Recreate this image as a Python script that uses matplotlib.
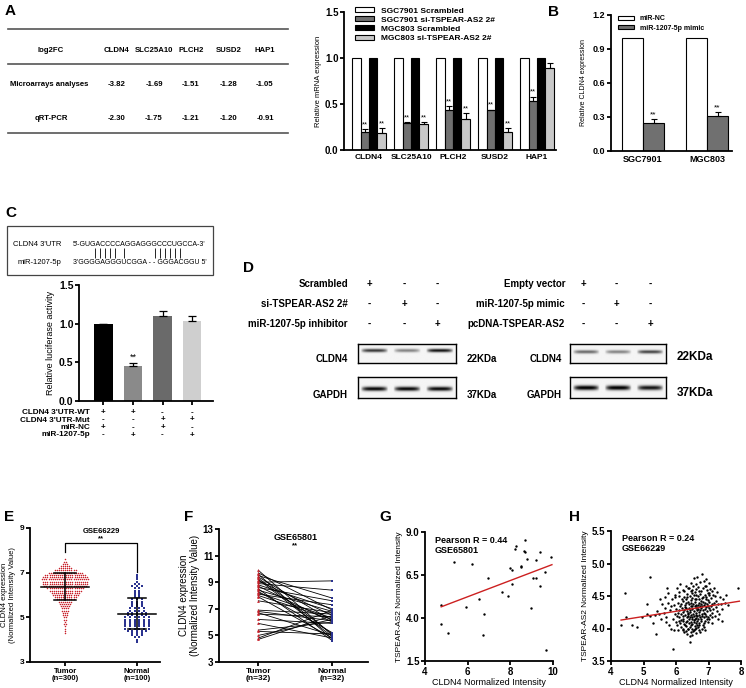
import numpy as np
import matplotlib
matplotlib.use('Agg')
import matplotlib.pyplot as plt
from matplotlib.transforms import blended_transform_factory

plt.rcParams['font.family'] = ['Liberation Sans', 'DejaVu Sans']
plt.rcParams['font.weight'] = 'bold'
plt.rcParams['axes.linewidth'] = 1.3

# ---- panel A table
table_genes = ['CLDN4', 'SLC25A10', 'PLCH2', 'SUSD2', 'HAP1']
micro_fc = ['-3.82', '-1.69', '-1.51', '-1.28', '-1.05']
qpcr_fc = ['-2.30', '-1.75', '-1.21', '-1.20', '-0.91']

# ---- panel A bars
a_series = ['SGC7901 Scrambled', 'SGC7901 si-TSPEAR-AS2 2#',
            'MGC803 Scrambled', 'MGC803 si-TSPEAR-AS2 2#']
a_sgc_scr = [1.0, 1.0, 1.0, 1.0, 1.0]
a_sgc_si = [0.20, 0.29, 0.43, 0.43, 0.53]
a_sgc_si_err = [0.03, 0.01, 0.05, 0.01, 0.05]
a_mgc_scr = [1.0, 1.0, 1.0, 1.0, 1.0]
a_mgc_si = [0.19, 0.28, 0.34, 0.20, 0.89]
a_mgc_si_err = [0.05, 0.02, 0.06, 0.04, 0.06]
a_mgc_sig = [True, True, True, True, False]

# ---- panel B
b_cells = ['SGC7901', 'MGC803']
b_series = ['miR-NC', 'miR-1207-5p mimic']
b_nc = [1.0, 1.0]
b_mimic = [0.25, 0.31]
b_mimic_err = [0.03, 0.03]

# ---- panel C
c_values = [1.0, 0.45, 1.10, 1.04]
c_err = [0.0, 0.04, 0.07, 0.06]
c_sig = ['', '**', '', '']
c_row_labels = ["CLDN4 3'UTR-WT", "CLDN4 3'UTR-Mut", 'miR-NC', 'miR-1207-5p']
c_row_signs = [['+', '+', '-', '-'], ['-', '-', '+', '+'],
               ['+', '-', '+', '-'], ['-', '+', '-', '+']]

# ---- panel D
d_left_rows = ['Scrambled', 'si-TSPEAR-AS2 2#', 'miR-1207-5p inhibitor']
d_left_signs = [['+', '-', '-'], ['-', '+', '-'], ['-', '-', '+']]
d_right_rows = ['Empty vector', 'miR-1207-5p mimic', 'pcDNA-TSPEAR-AS2']
d_right_signs = [['+', '-', '-'], ['-', '+', '-'], ['-', '-', '+']]
d_left_cldn4 = [0.75, 0.45, 0.9]
d_left_gapdh = [0.95, 0.95, 0.95]
d_right_cldn4 = [0.55, 0.45, 0.7]
d_right_gapdh = [1.0, 1.0, 0.9]

# ---- panel E (value levels and point counts per level)
e_tumor_levels = [4.3, 4.4, 4.5, 4.6, 4.7, 4.8, 4.9, 5.0, 5.1, 5.2, 5.3, 5.4, 5.5,
                  5.6, 5.7, 5.8, 5.9, 6.0, 6.1, 6.2, 6.3, 6.4, 6.5, 6.6, 6.7, 6.8,
                  6.9, 7.0, 7.1, 7.2, 7.3, 7.4, 7.5, 7.6]
e_tumor_counts = [1, 1, 1, 1, 2, 1, 2, 2, 3, 3, 4, 4, 5,
                  6, 7, 9, 11, 13, 14, 16, 18, 21, 22, 22, 23, 22,
                  20, 17, 11, 7, 5, 3, 2, 1]
e_normal_levels = [3.9, 4.0, 4.1, 4.2, 4.3, 4.4, 4.5, 4.6, 4.7, 4.8, 4.9, 5.0, 5.1,
                   5.2, 5.3, 5.4, 5.5, 5.6, 5.7, 5.8, 5.9, 6.0, 6.1, 6.2, 6.3, 6.4,
                   6.5, 6.6, 6.7, 6.8, 6.9]
e_normal_counts = [1, 1, 2, 3, 3, 5, 6, 6, 6, 6, 6, 6, 5,
                   5, 4, 4, 3, 3, 3, 3, 2, 2, 2, 2, 2, 3,
                   2, 1, 1, 1, 1]

# ---- panel F (paired)
f_tumor = [9.9, 9.7, 9.6, 9.5, 9.4, 9.3, 9.2, 9.1, 9.0, 8.9, 8.8, 8.7, 8.6, 8.5, 8.4, 8.3,
           8.2, 8.1, 8.0, 7.9, 7.6, 6.9, 6.8, 6.7, 6.6, 6.2, 5.9, 5.4, 5.3, 5.0, 4.8, 4.7]
f_normal = [5.0, 6.9, 4.7, 7.8, 6.1, 5.1, 4.9, 6.5, 9.1, 8.4, 7.0, 6.0, 7.6, 4.6, 6.8, 5.2,
            6.3, 7.3, 6.2, 4.8, 6.7, 6.6, 6.1, 5.0, 6.4, 5.9, 4.8, 6.0, 5.1, 6.2, 6.9, 6.5]

# ---- panel G
g_x = [4.76, 4.73, 5.10, 5.37, 5.92, 6.20, 6.53, 6.75, 6.72, 6.93, 7.60, 7.91, 7.97, 8.09,
       8.06, 8.21, 8.27, 8.49, 8.52, 8.67, 8.64, 8.67, 8.79, 8.98, 9.07, 9.22, 9.19, 9.40,
       9.37, 9.62, 9.68, 9.92]
g_y = [4.74, 3.63, 3.15, 7.28, 4.66, 7.12, 5.09, 4.21, 3.00, 6.31, 5.53, 5.28, 6.89, 6.77,
       6.00, 8.01, 8.17, 7.04, 6.95, 8.53, 7.90, 7.82, 7.43, 4.60, 6.34, 6.34, 7.37, 7.82,
       5.88, 6.66, 2.14, 7.53]
g_fit_x = [4.76, 9.95]
g_fit_y = [4.65, 7.10]

# ---- panel H
h_x = [4.30, 4.43, 4.46, 4.64, 4.79, 4.94, 5.10, 5.20, 5.10, 5.21, 5.30, 5.35, 5.38, 5.44,
       5.42, 5.48, 5.51, 5.55, 5.58, 5.62, 5.65, 5.68, 5.70, 5.74, 5.76, 5.78, 5.82, 5.85,
       5.88, 5.90, 5.92, 5.95, 5.97, 5.93,
       6.80, 6.65, 6.92, 6.55,
       6.30, 6.12, 6.75, 7.00, 6.60, 6.45, 6.85,
       6.02, 6.20, 6.38, 6.50, 6.62, 6.70, 6.82, 6.95, 7.05, 7.12, 7.90, 6.48, 6.58,
       5.98, 6.10, 6.25, 6.35, 6.42, 6.55, 6.60, 6.68, 6.73, 6.80, 6.88, 6.93, 7.00, 7.08,
       7.20, 7.35, 7.45, 6.30, 6.47, 6.78, 6.98,
       6.05, 6.15, 6.22, 6.28, 6.36, 6.40, 6.45, 6.52, 6.58, 6.63, 6.70, 6.76, 6.82, 6.87,
       6.90, 6.96, 7.03, 7.10, 7.18, 7.28, 7.50, 7.60, 6.50, 6.66, 6.74, 6.92,
       6.00, 6.08, 6.18, 6.25, 6.30, 6.35, 6.40, 6.44, 6.50, 6.55, 6.60, 6.64, 6.69, 6.72,
       6.78, 6.83, 6.88, 6.94, 7.00, 7.06, 7.15, 7.25, 7.40, 6.20, 6.38, 6.52, 6.62, 6.80,
       6.02, 6.10, 6.15, 6.22, 6.28, 6.33, 6.37, 6.42, 6.47, 6.50, 6.56, 6.60, 6.65, 6.70,
       6.75, 6.80, 6.85, 6.92, 6.98, 7.05, 7.12, 7.20, 7.30, 6.40, 6.55, 6.68,
       6.00, 6.08, 6.12, 6.20, 6.25, 6.30, 6.35, 6.40, 6.45, 6.50, 6.55, 6.60, 6.65, 6.72,
       6.78, 6.85, 6.90, 6.98, 7.10, 6.30, 6.42, 6.58, 6.70, 6.15,
       6.05, 6.20, 6.30, 6.38, 6.45, 6.50, 6.55, 6.62, 6.70, 6.80, 6.90, 6.35, 6.48, 6.42,
       6.25,
       6.26, 6.41, 6.53, 6.67, 6.77, 6.91, 7.02, 6.34, 6.49, 6.63, 6.71, 6.84, 6.97, 7.13,
       7.24, 6.18, 6.32, 6.46, 6.57, 6.69, 6.79, 6.93, 7.07, 7.22, 6.12, 6.27, 6.43, 6.59,
       6.73, 6.86, 6.99, 7.11, 6.06, 6.23, 6.36, 6.49, 6.63, 6.77, 6.89, 7.02, 6.16, 6.29,
       6.46, 6.57, 6.68, 6.83, 6.95, 6.37, 6.52, 6.61, 6.74, 6.86, 6.22, 6.44, 6.58, 6.66,
       6.47, 6.88, 7.27, 7.38, 7.33, 7.42, 7.55, 7.18, 6.08, 5.96, 6.04, 5.84, 5.72, 5.66]
h_y = [4.05, 4.54, 4.18, 4.05, 4.03, 4.17, 4.37, 4.80, 4.22, 4.20, 4.08, 4.21, 3.91, 5.22,
       4.27, 4.22, 4.46, 4.15, 4.38, 4.24, 4.32, 4.18, 4.10, 4.40, 4.55, 4.05, 4.28, 4.00,
       4.45, 4.14, 3.68, 4.36, 4.22, 3.97,
       4.84, 4.80, 4.76, 4.78,
       4.66, 4.68, 4.72, 4.70, 4.68, 4.70, 4.73,
       4.62, 4.60, 4.63, 4.60, 4.61, 4.58, 4.62, 4.60, 4.61, 4.57, 4.62, 4.55, 4.56,
       4.52, 4.50, 4.48, 4.53, 4.50, 4.52, 4.46, 4.50, 4.53, 4.47, 4.52, 4.49, 4.51, 4.47,
       4.50, 4.48, 4.45, 4.45, 4.44, 4.43, 4.44,
       4.40, 4.38, 4.42, 4.36, 4.41, 4.37, 4.40, 4.38, 4.41, 4.36, 4.40, 4.38, 4.41, 4.36,
       4.40, 4.38, 4.41, 4.37, 4.40, 4.38, 4.40, 4.36, 4.34, 4.33, 4.34, 4.33,
       4.30, 4.28, 4.32, 4.28, 4.31, 4.27, 4.32, 4.28, 4.30, 4.27, 4.31, 4.28, 4.30, 4.26,
       4.31, 4.28, 4.30, 4.27, 4.31, 4.28, 4.30, 4.27, 4.30, 4.25, 4.24, 4.23, 4.24, 4.23,
       4.20, 4.18, 4.22, 4.19, 4.21, 4.17, 4.20, 4.18, 4.21, 4.17, 4.20, 4.16, 4.19, 4.21,
       4.17, 4.20, 4.18, 4.20, 4.17, 4.21, 4.18, 4.20, 4.15, 4.14, 4.13, 4.14,
       4.10, 4.12, 4.08, 4.11, 4.07, 4.10, 4.12, 4.08, 4.10, 4.07, 4.10, 4.08, 4.11, 4.09,
       4.12, 4.08, 4.11, 4.10, 4.09, 4.04, 4.03, 4.04, 4.05, 4.02,
       3.98, 4.00, 3.96, 3.99, 3.95, 4.00, 3.97, 3.93, 3.98, 4.00, 3.97, 3.92, 3.90, 3.80,
       3.94,
       4.57, 4.62, 4.66, 4.64, 4.57, 4.66, 4.55, 4.49, 4.47, 4.52, 4.45, 4.49, 4.55, 4.52,
       4.43, 4.46, 4.39, 4.35, 4.46, 4.36, 4.35, 4.46, 4.34, 4.33, 4.34, 4.33, 4.26, 4.34,
       4.29, 4.24, 4.35, 4.24, 4.24, 4.15, 4.23, 4.14, 4.21, 4.14, 4.23, 4.14, 4.13, 4.06,
       4.05, 4.15, 4.02, 4.05, 4.14, 4.00, 3.96, 4.01, 3.94, 4.02, 3.97, 3.88, 3.99, 4.06,
       4.58, 4.65, 4.56, 4.38, 4.22, 4.12, 4.51, 4.62, 4.56, 4.49, 4.05, 4.35, 4.62, 4.48]
h_fit_x = [4.31, 7.95]
h_fit_y = [4.13, 4.42]

W, H = 746, 688
fig = plt.figure(figsize=(W / 100, H / 100), dpi=100)


def px_axes(x0, y0, x1, y1):
    return fig.add_axes([x0 / W, 1 - y1 / H, (x1 - x0) / W, (y1 - y0) / H])


def prism(ax, size=7):
    for s in ['top', 'right']:
        ax.spines[s].set_visible(False)
    ax.tick_params(direction='out', width=1.3, length=3, labelsize=size, pad=1)
    ax.patch.set_alpha(0)


fmt1 = matplotlib.ticker.FormatStrFormatter('%.1f')

over = px_axes(0, 0, W, H)
over.set_xlim(0, W)
over.set_ylim(H, 0)
over.axis('off')

for lab, x, y in [('A', 5, 11), ('B', 548, 12), ('C', 5, 213), ('D', 243, 268),
                  ('E', 4, 517), ('F', 184, 517), ('G', 379, 517), ('H', 569, 517)]:
    over.text(x, y, lab, fontsize=11, fontweight='bold', ha='left', va='center')

# ---------- A table
for y in [29, 64, 133]:
    over.plot([8, 288], [y, y], color='#555555', lw=1.2)
col_x = [117, 154, 191, 229, 265]
tkw = dict(fontsize=5.6, ha='center', va='center')
over.text(51, 50, 'log2FC', **tkw)
over.text(49, 84, 'Microarrays analyses', **tkw)
over.text(51, 118, 'qRT-PCR', **tkw)
for i, g in enumerate(table_genes):
    over.text(col_x[i], 50, g, **tkw)
    over.text(col_x[i], 84, micro_fc[i], **tkw)
    over.text(col_x[i], 118, qpcr_fc[i], **tkw)

# ---------- A bars
axA = px_axes(344, 12, 556, 150)
prism(axA)
xg = np.arange(len(table_genes))
w = 0.2
bar_kw = dict(width=w, edgecolor='black', linewidth=0.8)
axA.bar(xg - 1.5 * w, a_sgc_scr, color='white', label=a_series[0], **bar_kw)
axA.bar(xg - 0.5 * w, a_sgc_si, color='#707070', label=a_series[1], **bar_kw)
axA.bar(xg + 0.5 * w, a_mgc_scr, color='black', label=a_series[2], **bar_kw)
axA.bar(xg + 1.5 * w, a_mgc_si, color='#c8c8c8', label=a_series[3], **bar_kw)
axA.errorbar(xg - 0.5 * w, a_sgc_si, yerr=[np.zeros(5), a_sgc_si_err], fmt='none',
             ecolor='black', elinewidth=0.8, capsize=2, capthick=0.8)
axA.errorbar(xg + 1.5 * w, a_mgc_si, yerr=[np.zeros(5), a_mgc_si_err], fmt='none',
             ecolor='black', elinewidth=0.8, capsize=2, capthick=0.8)
for i in range(5):
    axA.text(xg[i] - 0.5 * w, a_sgc_si[i] + a_sgc_si_err[i] + 0.01, '**', fontsize=5.5,
             ha='center', va='bottom', fontweight='normal')
    if a_mgc_sig[i]:
        axA.text(xg[i] + 1.5 * w, a_mgc_si[i] + a_mgc_si_err[i] + 0.01, '**', fontsize=5.5,
                 ha='center', va='bottom', fontweight='normal')
axA.set_xlim(-0.595, 4.45)
axA.set_ylim(0, 1.5)
axA.set_yticks([0, 0.5, 1.0, 1.5])
axA.yaxis.set_major_formatter(fmt1)
axA.set_xticks(xg)
axA.set_xticklabels(table_genes, fontsize=6)
axA.tick_params(axis='x', length=0, pad=3)
axA.set_ylabel('Relative mRNA expression', fontsize=5.5, fontweight='normal', labelpad=2)
axA.legend(loc='upper left', bbox_to_anchor=(351 / W, 1 - 3 / H), bbox_transform=fig.transFigure,
           frameon=False, fontsize=6, handlelength=2.3, handleheight=0.55,
           labelspacing=0.2, borderpad=0, handletextpad=0.8)

# ---------- B bars
axB = px_axes(611, 15, 732, 151)
prism(axB, 6.5)
xb = np.arange(len(b_cells))
wb = 0.33
axB.bar(xb - wb / 2, b_nc, width=wb, color='white', edgecolor='black', lw=0.8, label=b_series[0])
axB.bar(xb + wb / 2, b_mimic, width=wb, color='#707070', edgecolor='black', lw=0.8, label=b_series[1])
axB.errorbar(xb + wb / 2, b_mimic, yerr=[np.zeros(2), b_mimic_err], fmt='none', ecolor='black',
             elinewidth=0.8, capsize=2.5, capthick=0.8)
for i in range(2):
    axB.text(xb[i] + wb / 2, b_mimic[i] + b_mimic_err[i] + 0.01, '**', fontsize=6,
             ha='center', va='bottom', fontweight='normal')
axB.set_xlim(-0.5, 1.39)
axB.set_ylim(0, 1.2)
axB.set_yticks([0, 0.3, 0.6, 0.9, 1.2])
axB.yaxis.set_major_formatter(fmt1)
axB.set_xticks(xb)
axB.set_xticklabels(b_cells, fontsize=6.5)
axB.tick_params(axis='x', length=0, pad=3)
axB.set_ylabel('Relative CLDN4 expression', fontsize=5, labelpad=4)
axB.legend(loc='upper left', bbox_to_anchor=(615 / W, 1 - 12 / H), bbox_transform=fig.transFigure,
           frameon=False, fontsize=5, handlelength=2.3, handleheight=0.55,
           labelspacing=0.3, borderpad=0, handletextpad=0.8)

# ---------- C sequence box
over.add_patch(plt.Rectangle((7, 226), 206, 49, fill=False, edgecolor='#444444', lw=0.9))
skw = dict(fontsize=5.5, fontweight='normal', va='center')
qkw = dict(fontsize=5.0, fontweight='normal', va='center')
over.text(13, 244, "CLDN4 3'UTR", **skw)
over.text(73, 244, "5'-GUGACCCCAGGAGGGCCCUGCCA-3'", **qkw)
over.text(18, 263, 'miR-1207-5p', **skw)
over.text(73, 263, "3'GGGGAGGGUCGGA - - GGGACGGU 5'", **qkw)
pair_x = [95, 100, 105, 110, 115, 124, 155, 160, 165, 170, 175, 180]
over.vlines(pair_x, 248, 258, color='black', lw=0.6)

# ---------- C bars
axC = px_axes(79, 285, 213, 401)
prism(axC, 7.5)
xc = np.arange(len(c_values))
axC.bar(xc, c_values, width=0.64, color=['black', '#8a8a8a', '#6a6a6a', '#cfcfcf'],
        edgecolor='none')
axC.errorbar(xc, c_values, yerr=[np.zeros(4), c_err], fmt='none', ecolor='black',
             elinewidth=0.9, capsize=3, capthick=0.9)
for i in range(4):
    if c_sig[i]:
        axC.text(xc[i], c_values[i] + c_err[i] + 0.02, c_sig[i], fontsize=6.5, ha='center',
                 va='bottom', fontweight='normal')
axC.set_xlim(-0.83, 3.71)
axC.set_ylim(0, 1.5)
axC.set_yticks([0, 0.5, 1.0, 1.5])
axC.yaxis.set_major_formatter(fmt1)
axC.set_xticks(xc)
axC.set_xticklabels([])
axC.set_ylabel('Relative luciferase activity', fontsize=6.5, fontweight='normal', labelpad=3)
trC = blended_transform_factory(axC.transData, over.transData)
row_y = [412.5, 420, 427.5, 435]
for r, lab in enumerate(c_row_labels):
    over.text(90, row_y[r], lab, fontsize=5.9, ha='right', va='center')
    for i, s in enumerate(c_row_signs[r]):
        over.text(xc[i], row_y[r], s, fontsize=5.9, ha='center', va='center', transform=trC)

# ---------- D
d_rows_y = [284, 304, 324]
left_sign_x = [369, 404, 437]
right_sign_x = [583, 616, 650]
for r in range(3):
    over.text(348, d_rows_y[r], d_left_rows[r], fontsize=7, ha='right', va='center')
    over.text(565, d_rows_y[r], d_right_rows[r], fontsize=7, ha='right', va='center')
    for i in range(3):
        over.text(left_sign_x[i], d_rows_y[r], d_left_signs[r][i], fontsize=7, ha='center', va='center')
        over.text(right_sign_x[i], d_rows_y[r], d_right_signs[r][i], fontsize=7, ha='center', va='center')


def blot(x0, y0, x1, y1, levels, yc, sy):
    ax = px_axes(x0, y0, x1, y1)
    rows, cols = 40, 300
    yy, xx = np.mgrid[0:rows, 0:cols]
    img = np.full((rows, cols), 0.04)
    for k, lev in enumerate(levels):
        xc_ = cols * (2 * k + 1) / 6
        hprof = np.clip(1 - (np.abs(xx - xc_) / 42.0) ** 4, 0, 1)
        img += lev * hprof * np.exp(-((yy - yc * rows) / (sy * rows)) ** 2)
    ax.imshow(np.clip(img, 0, 1), cmap='gray_r', vmin=0, vmax=1, aspect='auto',
              interpolation='bilinear')
    ax.set_xticks([])
    ax.set_yticks([])
    for s in ax.spines.values():
        s.set_linewidth(1.0)
    return ax


blot(358, 344, 456, 363, d_left_cldn4, 0.33, 0.09)
blot(358, 377, 456, 398, d_left_gapdh, 0.55, 0.1)
blot(570, 344, 666, 363, d_right_cldn4, 0.4, 0.09)
blot(570, 377, 666, 398, d_right_gapdh, 0.5, 0.11)
over.text(348, 359, 'CLDN4', fontsize=7, ha='right', va='center')
over.text(348, 395, 'GAPDH', fontsize=7, ha='right', va='center')
over.text(467, 359, '22KDa', fontsize=7, ha='left', va='center')
over.text(467, 395, '37KDa', fontsize=7, ha='left', va='center')
over.text(562, 359, 'CLDN4', fontsize=7, ha='right', va='center')
over.text(562, 395, 'GAPDH', fontsize=7, ha='right', va='center')
over.text(677, 357, '22KDa', fontsize=8.5, ha='left', va='center')
over.text(677, 393, '37KDa', fontsize=8.5, ha='left', va='center')


# ---------- E
def swarm(levels, counts, center, step):
    xs, ys = [], []
    for v, n in zip(levels, counts):
        off = (np.arange(n) - (n - 1) / 2) * step
        xs.extend(center + off)
        ys.extend([v] * n)
    return np.array(xs), np.array(ys)


axE = px_axes(30, 528, 160, 662)
prism(axE, 6)
tx, ty = swarm(e_tumor_levels, e_tumor_counts, 0, 0.029)
nx, ny = swarm(e_normal_levels, e_normal_counts, 1, 0.065)
axE.scatter(tx, ty, s=1.2, marker='o', color='#c8202a', linewidths=0)
axE.scatter(nx, ny, s=1.8, marker='s', color='#2b3390', linewidths=0)
for cx, vals, mw, cw in [(0, ty, 0.33, 0.15), (1, ny, 0.27, 0.13)]:
    m, sd = vals.mean(), vals.std()
    axE.plot([cx - mw, cx + mw], [m, m], color='black', lw=1.1)
    axE.plot([cx - cw, cx + cw], [m + sd, m + sd], color='black', lw=1.1)
    axE.plot([cx - cw, cx + cw], [m - sd, m - sd], color='black', lw=1.1)
    axE.plot([cx, cx], [m - sd, m + sd], color='black', lw=1.1)
axE.plot([0, 0, 1, 1], [7.93, 8.33, 8.33, 7.03], color='black', lw=0.9)
axE.text(0.5, 8.85, 'GSE66229', fontsize=5.5, ha='center', va='center')
axE.text(0.5, 8.5, '**', fontsize=5.5, ha='center', va='center')
axE.set_xlim(-0.49, 1.32)
axE.set_ylim(3, 9)
axE.set_yticks([3, 5, 7, 9])
axE.set_xticks([0, 1])
axE.set_xticklabels(['Tumor\n(n=300)', 'Normal\n(n=100)'], fontsize=5.5, linespacing=1.0)
axE.set_ylabel('CLDN4 expression\n(Normalized Intensity Value)', fontsize=5.5, labelpad=3,
               linespacing=1.1)

# ---------- F
axF = px_axes(219, 529, 368, 662)
prism(axF, 7)
for a, b in zip(f_tumor, f_normal):
    axF.plot([0, 1], [a, b], color='black', lw=0.6)
axF.scatter(np.zeros(len(f_tumor)), f_tumor, s=4, marker='^', color='#c8202a', zorder=3, linewidths=0)
axF.scatter(np.ones(len(f_normal)), f_normal, s=4, marker='s', color='#2b3390', zorder=3, linewidths=0)
axF.text(0.5, 12.35, 'GSE65801', fontsize=6.5, ha='center', va='center')
axF.text(0.5, 11.75, '**', fontsize=5.5, ha='center', va='center')
axF.set_xlim(-0.53, 1.48)
axF.set_ylim(3, 13)
axF.set_yticks([3, 5, 7, 9, 11, 13])
axF.set_xticks([0, 1])
axF.set_xticklabels(['Tumor\n(n=32)', 'Normal\n(n=32)'], fontsize=6, linespacing=1.0)
axF.set_ylabel('CLDN4 expression\n(Normalized Intensity Value)', fontsize=7, labelpad=2,
               linespacing=1.1)

# ---------- G
axG = px_axes(425, 532, 553, 661)
prism(axG, 7)
axG.scatter(g_x, g_y, s=3, color='black', linewidths=0)
axG.plot(g_fit_x, g_fit_y, color='#cc2020', lw=1.0)
axG.text(4.45, 8.75, 'Pearson R = 0.44\nGSE65801', fontsize=6.5, ha='left', va='top', linespacing=1.15)
axG.set_xlim(4, 10)
axG.set_ylim(1.5, 9.0)
axG.set_xticks([4, 6, 8, 10])
axG.set_yticks([1.5, 4.0, 6.5, 9.0])
axG.yaxis.set_major_formatter(fmt1)
axG.set_xlabel('CLDN4 Normalized Intensity', fontsize=6.5, labelpad=1)
axG.set_ylabel('TSPEAR-AS2 Normalized Intensity', fontsize=6, labelpad=2)

# ---------- H
axH = px_axes(611, 531, 741, 661)
prism(axH, 7)
axH.scatter(h_x, h_y, s=3, color='black', linewidths=0)
axH.plot(h_fit_x, h_fit_y, color='#cc2020', lw=1.0)
axH.text(4.33, 5.45, 'Pearson R = 0.24\nGSE66229', fontsize=6.5, ha='left', va='top', linespacing=1.15)
axH.set_xlim(4, 8)
axH.set_ylim(3.5, 5.5)
axH.set_xticks([4, 5, 6, 7, 8])
axH.set_yticks([3.5, 4.0, 4.5, 5.0, 5.5])
axH.yaxis.set_major_formatter(fmt1)
axH.set_xlabel('CLDN4 Normalized Intensity', fontsize=6.5, labelpad=1)
axH.set_ylabel('TSPEAR-AS2 Normalized Intensity', fontsize=6, labelpad=2)

fig.savefig('out.png', dpi=100)
